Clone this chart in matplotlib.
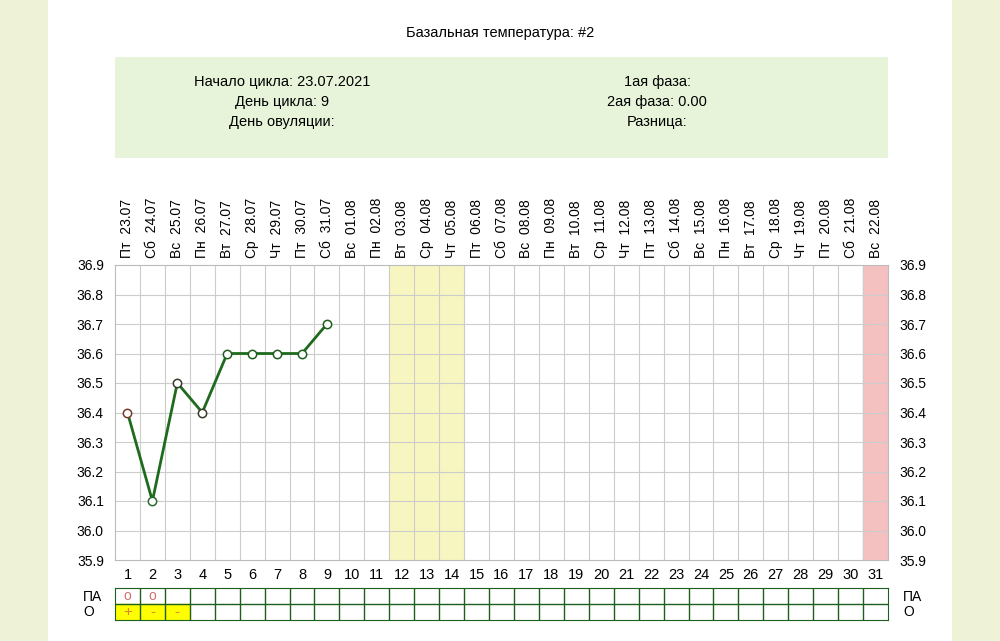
import datetime as dt
import matplotlib
matplotlib.use("Agg")
import matplotlib.pyplot as plt
from matplotlib.patches import Rectangle

plt.rcParams["font.family"] = ["Liberation Sans", "DejaVu Sans"]

# data
start = dt.date(2021, 7, 23)
weekdays = ["Пн", "Вт", "Ср", "Чт", "Пт", "Сб", "Вс"]
days = list(range(1, 32))
temps = [36.4, 36.1, 36.5, 36.4, 36.6, 36.6, 36.6, 36.6, 36.7]
marker_edges = ["#7a3a2a", "#2d6a2d", "#3a3a2a", "#3a3a2a", "#1e5e1e", "#1e5e1e", "#1e5e1e", "#1e5e1e", "#1e5e1e"]
yticks = [35.9, 36.0, 36.1, 36.2, 36.3, 36.4, 36.5, 36.6, 36.7, 36.8, 36.9]
yellow_days = [12, 13, 14]
pink_days = [31]
pa_marks = {1: "o", 2: "o"}
o_marks = {1: "+", 2: "-", 3: "-"}

W, H = 1000, 641
fig = plt.figure(figsize=(W / 100, H / 100), dpi=100)
fig.patch.set_facecolor("#eef2d6")


def px(x0, y0, x1, y1):
    # pixel box (top-left origin) -> figure axes
    return fig.add_axes([x0 / W, 1 - y1 / H, (x1 - x0) / W, (y1 - y0) / H])


bg = px(48, 0, 952, 641)
bg.set_facecolor("white")
bg.set_xticks([]); bg.set_yticks([])
for s in bg.spines.values():
    s.set_visible(False)

fig.text(0.5, 1 - 33 / H, "Базальная температура: #2", ha="center", va="center", fontsize=10.5)

info = px(115, 57, 888, 158)
info.set_facecolor("#e8f4d9")
info.set_xticks([]); info.set_yticks([])
for s in info.spines.values():
    s.set_visible(False)
left_lines = ["Начало цикла: 23.07.2021", "День цикла: 9", "День овуляции:"]
right_lines = ["1ая фаза:", "2ая фаза: 0.00", "Разница:"]
for i, (l, r) in enumerate(zip(left_lines, right_lines)):
    fig.text(282 / W, 1 - (82 + i * 20) / H, l, ha="center", va="center", fontsize=10.5)
    fig.text(657 / W, 1 - (82 + i * 20) / H, r, ha="center", va="center", fontsize=10.5)

ax = px(115, 265, 888, 560)
ax.set_xlim(0.5, 31.5)
ax.set_ylim(35.9, 36.9)
for d in yellow_days:
    ax.axvspan(d - 0.5, d + 0.5, color="#f8f6c0", zorder=0)
for d in pink_days:
    ax.axvspan(d - 0.5, d + 0.5, color="#f5c0c0", zorder=0)
for d in range(1, 31):
    ax.axvline(d + 0.5, color="#cccccc", lw=0.8, zorder=1)
for y in yticks[1:-1]:
    ax.axhline(y, color="#cccccc", lw=0.8, zorder=1)
ax.plot(days[:len(temps)], temps, color="#1e6b1e", lw=2, zorder=3)
for d, t, c in zip(days, temps, marker_edges):
    ax.plot(d, t, "o", mfc="white", mec=c, ms=6, mew=1.1, zorder=4)
for s in ax.spines.values():
    s.set_color("#bbbbbb")
ax.set_yticks(yticks)
ax.set_yticklabels([f"{y:.1f}" for y in yticks], fontsize=10)
ax.tick_params(length=0, labelright=True, pad=8)
ax.set_xticks(days)
ax.set_xticklabels([str(d) for d in days], fontsize=10.5)
ax.tick_params(axis="x", pad=6)
for d in days:
    date = start + dt.timedelta(days=d - 1)
    lbl = f"{weekdays[date.weekday()]}  {date:%d.%m}"
    ax.text(d, 1.025, lbl, transform=ax.get_xaxis_transform(), rotation=90,
            ha="center", va="bottom", fontsize=10)

tb = px(115, 588, 888, 620)
tb.set_xlim(0.5, 31.5)
tb.set_ylim(0, 2)
for d, m in o_marks.items():
    tb.add_patch(Rectangle((d - 0.5, 0), 1, 1, color="#ffff00", zorder=0))
    tb.text(d, 0.5, m, ha="center", va="center", color="#e08040", fontsize=11)
for d, m in pa_marks.items():
    tb.text(d, 1.5, m, ha="center", va="center", color="#d07070", fontsize=10)
for d in range(1, 31):
    tb.axvline(d + 0.5, color="#1e5e1e", lw=1)
tb.axhline(1, color="#1e5e1e", lw=1)
for s in tb.spines.values():
    s.set_color("#1e5e1e")
tb.set_xticks([]); tb.set_yticks([])
for x in (83 / W, 903 / W):
    fig.text(x, 1 - 597 / H, "ПА", fontsize=10, va="center")
    fig.text(x, 1 - 612 / H, "О", fontsize=10, va="center")

fig.savefig("out.png", dpi=100, facecolor=fig.get_facecolor())
